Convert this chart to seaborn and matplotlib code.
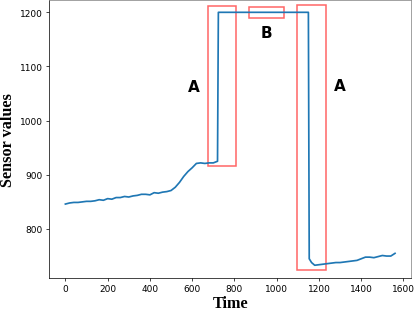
import matplotlib
matplotlib.use("Agg")
import matplotlib.pyplot as plt
import matplotlib.patches as patches
import seaborn as sns
import pandas as pd

# sensor trace
time = [0, 20, 40, 60, 80, 100, 120, 140, 160, 180, 200, 220, 240, 260, 280,
        300, 320, 340, 360, 380, 400, 420, 440, 460, 480, 500, 520, 540, 560,
        580, 600, 620, 640, 660, 680, 700, 720, 724, 800, 900, 1000, 1100,
        1150, 1154, 1165, 1180, 1200, 1220, 1240, 1260, 1280, 1300, 1320,
        1340, 1360, 1380, 1400, 1420, 1440, 1460, 1480, 1500, 1520, 1540, 1560]
values = [846, 848, 849, 849, 850, 851, 851, 852, 854, 853, 856, 855, 858,
          858, 860, 859, 861, 862, 864, 864, 863, 867, 866, 868, 869, 871,
          877, 886, 897, 906, 913, 921, 922, 921, 922, 922, 925, 1200, 1200,
          1200, 1200, 1200, 1200, 745, 738, 733, 734, 735, 736, 737, 738,
          738, 739, 740, 741, 742, 745, 748, 748, 747, 749, 751, 750, 750, 755]

# highlighted regions and their labels
box_x0 = [673, 868, 1098]
box_x1 = [808, 1035, 1235]
box_y0 = [917, 1189, 724]
box_y1 = [1211, 1210, 1213]
box_labels = ["A", "B", "A"]
label_x = [610, 952, 1300]
label_y = [1063, 1163, 1065]

df = pd.DataFrame({"Time": time, "Sensor values": values})

fig, ax = plt.subplots(figsize=(6.4, 4.8), dpi=64.75)
sns.lineplot(data=df, x="Time", y="Sensor values", color="#1f77b4",
             linewidth=1.9, ax=ax)

for x0, x1, y0, y1 in zip(box_x0, box_x1, box_y0, box_y1):
    rect = patches.Rectangle((x0, y0), x1 - x0, y1 - y0, fill=False,
                             edgecolor="red", alpha=0.6, linewidth=1.7)
    ax.add_patch(rect)

for lab, lx, ly in zip(box_labels, label_x, label_y):
    ax.text(lx, ly, lab, fontsize=17, fontweight="bold",
            ha="center", va="center")

ax.set_xlim(-78, 1638)
ax.set_ylim(709.5, 1222.5)
ax.set_xticks([0, 200, 400, 600, 800, 1000, 1200, 1400, 1600])
ax.set_yticks([800, 900, 1000, 1100, 1200])
ax.set_xlabel("Time", fontsize=18, fontweight="bold",
              family="Liberation Serif", labelpad=2)
ax.set_ylabel("Sensor values", fontsize=18, fontweight="bold",
              family="Liberation Serif", labelpad=4)
ax.spines["top"].set_color("0.5")
ax.spines["right"].set_color("0.5")

plt.subplots_adjust(left=0.118, right=0.993, top=0.997, bottom=0.103)
plt.savefig("out.png", dpi=64.75)
